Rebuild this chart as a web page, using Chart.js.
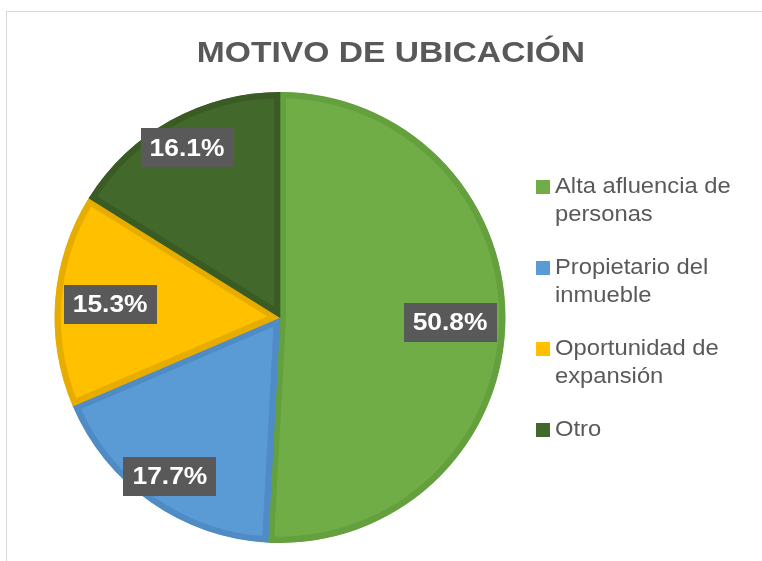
<!DOCTYPE html>
<html>
<head>
<meta charset="utf-8">
<script src="https://cdn.jsdelivr.net/npm/chart.js@4"></script>
<style>
    html, body { margin: 0; padding: 0; background: #ffffff; overflow: hidden; }
    body { width: 762px; height: 561px; position: relative; }
    .marco {
        position: absolute; left: 6px; top: 11px;
        width: 768px; height: 560px;
        border: 1px solid #d9d9d9; background: #ffffff;
    }
    canvas { display: block; }
</style>
</head>
<body>
<div class="marco">
    <canvas id="grafico-ubicacion" width="768" height="560"></canvas>
</div>
<script>
// Datos del gráfico
const titulo = 'MOTIVO DE UBICACIÓN';
const categorias = [
    ['Alta afluencia de', 'personas'],
    ['Propietario del', 'inmueble'],
    ['Oportunidad de', 'expansión'],
    ['Otro']
];
const valores = [50.8, 17.7, 15.3, 16.1];

// Estilos
const coloresRelleno = ['#70ad47', '#5b9bd5', '#ffc000', '#43682b'];
const coloresBorde = ['#64a03e', '#4f8bc4', '#e6ad00', '#3b5b25'];
const radioEtiqueta = [0.75, 0.86, 0.76, 0.86]; // fracción del radio para cada etiqueta
const colorTexto = '#595959';
const fuente = "'Liberation Sans', Arial, sans-serif";
const estiramiento = 1.1; // el original está algo ensanchado

// Texto con escala horizontal
function textoAncho(ctx, texto, x, y, escala) {
    ctx.save();
    ctx.translate(x, y);
    ctx.scale(escala, 1);
    ctx.fillText(texto, 0, 0);
    ctx.restore();
}

// Título centrado en todo el lienzo
const tituloPlugin = {
    id: 'tituloAncho',
    afterDraw(chart) {
        const ctx = chart.ctx;
        ctx.save();
        ctx.font = 'bold 30px ' + fuente;
        ctx.fillStyle = colorTexto;
        ctx.textAlign = 'center';
        ctx.textBaseline = 'alphabetic';
        textoAncho(ctx, titulo, chart.width / 2, 50, 1.12);
        ctx.restore();
    }
};

// Etiquetas de porcentaje con caja gris
const etiquetasPlugin = {
    id: 'etiquetas',
    afterDatasetsDraw(chart) {
        const ctx = chart.ctx;
        const meta = chart.getDatasetMeta(0);
        ctx.save();
        ctx.font = 'bold 24px ' + fuente;
        ctx.textAlign = 'center';
        ctx.textBaseline = 'middle';
        meta.data.forEach((arc, i) => {
            const p = arc.getProps(['x', 'y', 'startAngle', 'endAngle', 'outerRadius'], true);
            const medio = (p.startAngle + p.endAngle) / 2;
            const r = p.outerRadius * radioEtiqueta[i];
            const cx = p.x + Math.cos(medio) * r + 1;
            const cy = p.y + Math.sin(medio) * r;
            const texto = valores[i].toFixed(1) + '%';
            const w = ctx.measureText(texto).width * estiramiento + 18;
            const h = 39;
            ctx.fillStyle = '#595959';
            ctx.fillRect(Math.round(cx - w / 2), Math.round(cy - h / 2), Math.round(w), h);
            ctx.fillStyle = '#ffffff';
            textoAncho(ctx, texto, cx, cy + 1, estiramiento);
        });
        ctx.restore();
    }
};

// Leyenda a la derecha con textos de dos líneas
const leyendaPlugin = {
    id: 'leyendaDerecha',
    afterDraw(chart) {
        const ctx = chart.ctx;
        const x0 = 529;
        const alturaLinea = 27.5;
        const separacion = 26;
        let y = 175;
        ctx.save();
        ctx.font = '22px ' + fuente;
        ctx.textAlign = 'left';
        ctx.textBaseline = 'middle';
        categorias.forEach((lineas, i) => {
            ctx.fillStyle = coloresRelleno[i];
            ctx.fillRect(x0, y - 7, 14, 14);
            ctx.fillStyle = colorTexto;
            lineas.forEach((linea, j) => {
                textoAncho(ctx, linea, x0 + 19, y + j * alturaLinea, 1.08);
            });
            y += lineas.length * alturaLinea + separacion;
        });
        ctx.restore();
    }
};

Chart.defaults.font.family = fuente;

const grafico = new Chart(document.getElementById('grafico-ubicacion'), {
    type: 'pie',
    data: {
        labels: categorias.map(l => l.join(' ')),
        datasets: [{
            data: valores,
            backgroundColor: coloresRelleno,
            borderColor: coloresBorde,
            borderWidth: 6,
            borderAlign: 'inner'
        }]
    },
    options: {
        responsive: false,
        devicePixelRatio: 1,
        animation: false,
        layout: {
            padding: { left: 47.5, right: 269.5, top: 80, bottom: 29 }
        },
        plugins: {
            legend: { display: false },
            tooltip: { enabled: false },
            title: { display: false }
        }
    },
    plugins: [etiquetasPlugin, leyendaPlugin, tituloPlugin]
});
</script>
</body>
</html>
